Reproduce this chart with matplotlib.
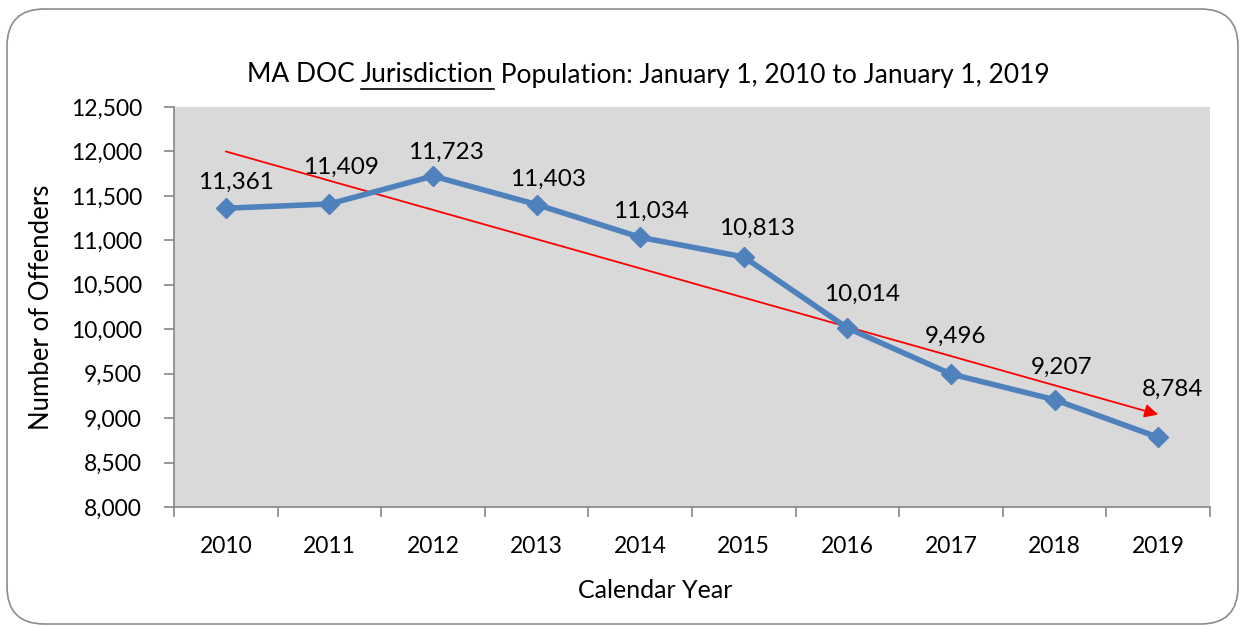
import matplotlib.pyplot as plt
from matplotlib.patches import FancyBboxPatch
from matplotlib.lines import Line2D

years = ["2010", "2011", "2012", "2013", "2014", "2015", "2016", "2017", "2018", "2019"]
population = [11361, 11409, 11723, 11403, 11034, 10813, 10014, 9496, 9207, 8784]
trend_start = 12000
trend_end = 9040

# label offsets in pixels (dx, dy) as placed in the original
label_off = [(10, 26), (12, 37), (13, 24), (11, 25), (11, 26),
             (13, 29), (15, 34), (4, 38), (7, 32), (14, 48)]

plt.rcParams['font.family'] = ['Lato', 'DejaVu Sans']

W, H = 1244, 626
fig = plt.figure(figsize=(W / 100, H / 100), dpi=100)

# rounded chart border
border = FancyBboxPatch((7 / W, 2 / H), 1231 / W, 615 / H,
                        boxstyle="round,pad=0,rounding_size=0.03",
                        transform=fig.transFigure, facecolor="white",
                        edgecolor="#8c8c8c", linewidth=1.2, mutation_aspect=W / H,
                        zorder=-5)
fig.patches.append(border)

ax = fig.add_axes([174 / W, 1 - 507 / H, (1210 - 174) / W, 400 / H])
ax.set_facecolor("#d9d9d9")
x = list(range(len(years)))

ax.plot(x, population, color="#4f81bd", linewidth=4, marker="D",
        markersize=10, zorder=3)

for i, v in enumerate(population):
    dx, dy = label_off[i]
    ax.annotate(f"{v:,}", (i, v), xytext=(dx * 0.72, dy * 0.72),
                textcoords="offset points", ha="center", va="center",
                fontsize=17.5, zorder=4)

ax.annotate("", xy=(x[-1], trend_end), xytext=(x[0], trend_start),
            arrowprops=dict(arrowstyle="-|>", color="red", lw=1.3,
                            mutation_scale=20, shrinkA=0, shrinkB=0), zorder=2)

ax.set_xlim(-0.5, len(years) - 0.5)
ax.set_ylim(8000, 12500)
ax.set_yticks(range(8000, 12501, 500))
ax.set_yticklabels([f"{t:,}" for t in range(8000, 12501, 500)], fontsize=16.5)
ax.set_xticks(x)
ax.set_xticklabels(years, fontsize=16.5)
ax.set_xticks([i - 0.5 for i in range(len(years) + 1)], minor=True)
ax.tick_params(axis="x", which="major", length=0, pad=21)
ax.tick_params(axis="x", which="minor", length=7, color="#868686", width=1.2)
ax.tick_params(axis="y", length=7, color="#868686", width=1.2, pad=16)
for s in ["top", "right"]:
    ax.spines[s].set_visible(False)
for s in ["left", "bottom"]:
    ax.spines[s].set_color("#868686")
    ax.spines[s].set_linewidth(1.2)

ax.set_ylabel("Number of Offenders", fontsize=18.5, labelpad=12)
ax.set_xlabel("Calendar Year", fontsize=18, labelpad=16)
ax.xaxis.label.set_x(0.464)

# title with underlined word
parts = ["MA DOC ", "Jurisdiction", " Population: January 1, 2010 to January 1, 2019"]
renderer = fig.canvas.get_renderer()
texts = [fig.text(0, 0, p, fontsize=19) for p in parts]
widths = [t.get_window_extent(renderer).width for t in texts]
total = sum(widths)
xpos = 648 - total / 2
ty = 1 - 75 / H
for t, w in zip(texts, widths):
    t.set_position((xpos / W, ty))
    t.set_va("center")
    if t.get_text() == "Jurisdiction":
        fig.add_artist(Line2D([xpos / W, (xpos + w) / W], [1 - 89 / H] * 2,
                              color="black", lw=1.2))
    xpos += w

fig.savefig("out.png", dpi=100)
